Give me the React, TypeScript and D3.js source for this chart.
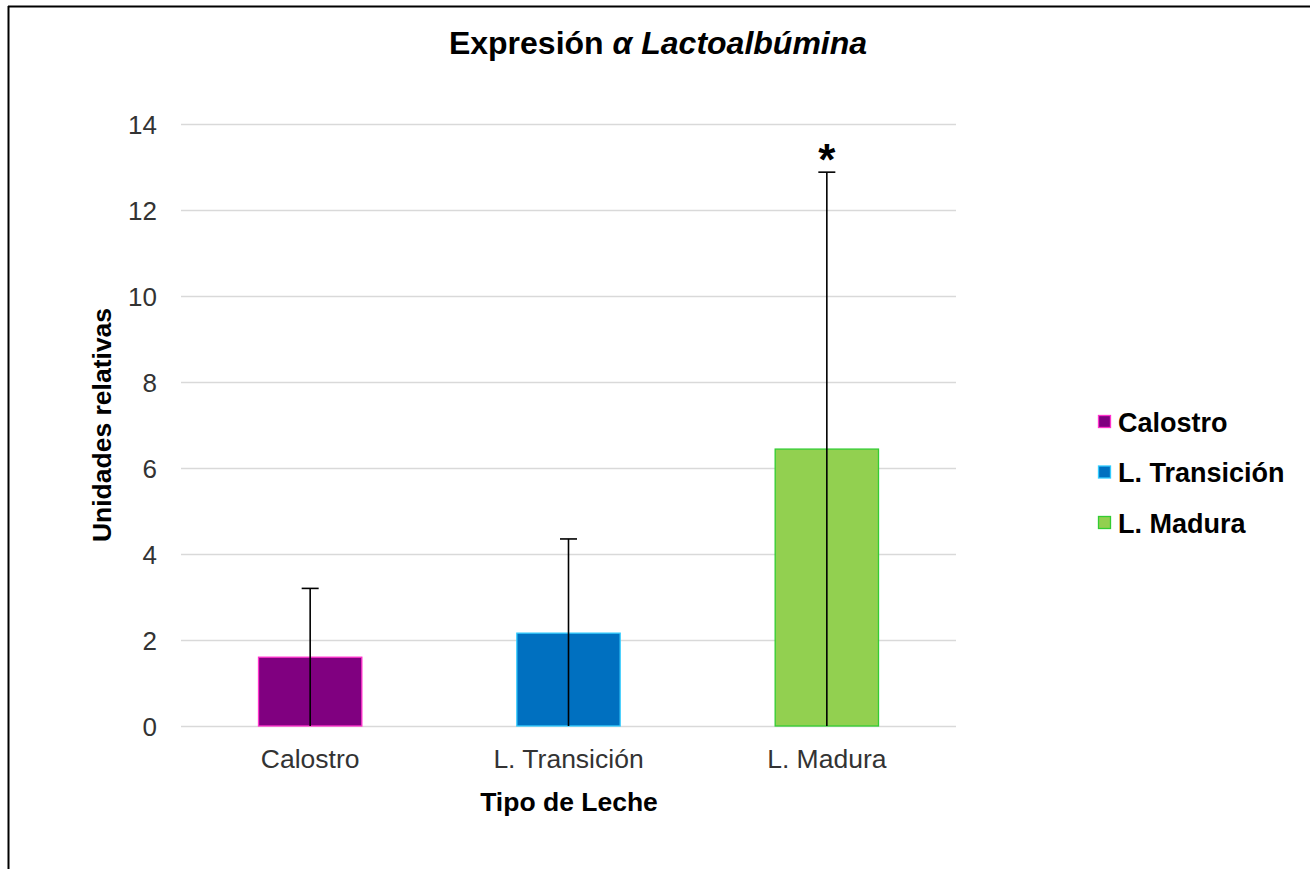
import React from "react";
import * as d3 from "d3";

const categories = ["Calostro", "L. Transición", "L. Madura"];
const values = [1.6, 2.16, 6.44];
const errors = [1.6, 2.19, 6.44];
const fills = ["#800080", "#0070C0", "#92D050"];
const strokes = ["#FF33CC", "#33CCFF", "#33CC33"];
const yTicks = [0, 2, 4, 6, 8, 10, 12, 14];
const significance = ["", "", "*"];

const W = 1310;
const H = 869;
const FONT = "'Liberation Sans', Arial, sans-serif";

export default function App() {
  const x = d3.scaleBand<string>().domain(categories).range([181, 956]).paddingInner(0.6).paddingOuter(0.3);
  const y = d3.scaleLinear().domain([0, 14]).range([726, 124]);
  const bw = x.bandwidth();

  return (
    <div style={{ position: "fixed", left: 0, top: 0 }}>
      <svg width={W} height={H} style={{ display: "block", background: "#fff" }}>
        <rect x={0} y={0} width={W} height={H} fill="#fff" />
        <line x1={8} y1={6.5} x2={W} y2={6.5} stroke="#000" strokeWidth={2} />
        <line x1={8.5} y1={6} x2={8.5} y2={H} stroke="#000" strokeWidth={2} />

        <text x={658} y={54} textAnchor="middle" fontFamily={FONT} fontWeight="bold" fontSize={32} fill="#000">
          Expresión <tspan fontStyle="italic">α Lactoalbúmina</tspan>
        </text>

        {yTicks.map((t) => (
          <g key={t}>
            <line x1={181} x2={956} y1={Math.round(y(t)) + 0.5} y2={Math.round(y(t)) + 0.5} stroke="#d9d9d9" strokeWidth={1.3} />
            <text x={157} y={y(t) + 9.5} textAnchor="end" fontFamily={FONT} fontSize={26} fill="#333">
              {t}
            </text>
          </g>
        ))}

        {categories.map((c, i) => {
          const bx = x(c)!;
          const cx = bx + bw / 2;
          const top = y(values[i] + errors[i]);
          return (
            <g key={c}>
              <rect x={bx} y={y(values[i])} width={bw} height={y(0) - y(values[i])} fill={fills[i]} stroke={strokes[i]} strokeWidth={1.3} />
              <line x1={cx} x2={cx} y1={top} y2={y(0)} stroke="#000" strokeWidth={1.6} />
              <line x1={cx - 8.5} x2={cx + 8.5} y1={top} y2={top} stroke="#000" strokeWidth={1.6} />
              {significance[i] && (
                <text x={cx} y={top + 3} textAnchor="middle" fontFamily={FONT} fontWeight="bold" fontSize={44} fill="#000">
                  {significance[i]}
                </text>
              )}
              <text x={cx} y={768} textAnchor="middle" fontFamily={FONT} fontSize={26.5} fill="#333">
                {c}
              </text>
            </g>
          );
        })}

        <text x={569} y={811} textAnchor="middle" fontFamily={FONT} fontWeight="bold" fontSize={26.5} fill="#000">
          Tipo de Leche
        </text>
        <text transform={`translate(111,425) rotate(-90)`} textAnchor="middle" fontFamily={FONT} fontWeight="bold" fontSize={26.5} fill="#000">
          Unidades relativas
        </text>

        {categories.map((c, i) => {
          const ly = 422 + i * 50.5;
          return (
            <g key={"lg" + c}>
              <rect x={1098.5} y={ly - 6.5} width={12} height={12} fill={fills[i]} stroke={strokes[i]} strokeWidth={1.3} />
              <text x={1118} y={ly + 9.5} fontFamily={FONT} fontWeight="bold" fontSize={27} fill="#000">
                {c}
              </text>
            </g>
          );
        })}
      </svg>
    </div>
  );
}
